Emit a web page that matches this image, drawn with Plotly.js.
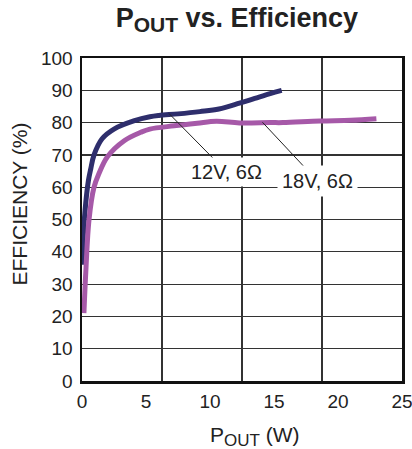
<!DOCTYPE html>
<html>
<head>
<meta charset="utf-8">
<script src="https://cdn.plot.ly/plotly-3.0.1.min.js"></script>
<style>html,body{margin:0;padding:0;background:#fff;}#chart{width:412px;height:449px;}</style>
</head>
<body>
<div id="chart"></div>
<script>
// Data
const pout12 = [0.02, 0.1, 0.29, 0.5, 0.68, 0.94, 1.57, 2.5, 4.1, 5.3, 6.0, 7.5, 9.2, 10.7, 12.3, 13.5, 14.7, 15.6];
const eff12  = [36, 45, 55, 62, 65.6, 70, 75, 78, 80.6, 81.8, 82.2, 82.7, 83.4, 84.2, 86, 87.5, 89, 90];
const pout18 = [0.15, 0.3, 0.55, 0.94, 1.3, 2.0, 3.3, 4.6, 5.3, 7.2, 9.0, 10.5, 12.3, 14.7, 15.7, 18.6, 21.0, 23.0];
const eff18  = [21, 34, 50, 60, 64, 69.5, 74.4, 77, 78, 79, 79.8, 80.4, 79.9, 80, 80, 80.5, 80.7, 81.2];
const xTicks = [0, 5, 10, 15, 20, 25];
const yTicks = [0, 10, 20, 30, 40, 50, 60, 70, 80, 90, 100];
const label12 = "12V, 6Ω";
const label18 = "18V, 6Ω";
const titleText = "<b>P<sub><span style='font-size:21px'>OUT</span></sub> vs. Efficiency</b>";
const xTitleText = "P<sub><span style='font-size:17px'>OUT</span></sub> (W)";
const yTitleText = "EFFICIENCY (%)";

const font = {family: "Liberation Sans, Arial, sans-serif", color: "#222"};

const traces = [
  {x: pout12, y: eff12, xaxis: "x", yaxis: "y", mode: "lines",
   line: {color: "#2e2e6c", width: 5, shape: "spline"}, hoverinfo: "skip"},
  {x: pout18, y: eff18, xaxis: "x2", yaxis: "y", mode: "lines",
   line: {color: "#a659a8", width: 5, shape: "spline"}, hoverinfo: "skip"}
];

const layout = {
  width: 412, height: 449,
  margin: {l: 82, r: 10, t: 58, b: 68},
  paper_bgcolor: "#fff", plot_bgcolor: "#fff",
  showlegend: false,
  font: Object.assign({size: 19}, font),
  title: {text: titleText, x: 0.575, xanchor: "center", y: 0.962, yanchor: "middle",
          font: Object.assign({}, font, {size: 27, color: "#222"})},
  xaxis: {range: [0, 25], dtick: 6.25, tick0: 0, showticklabels: false, ticks: "",
          showgrid: true, gridcolor: "#333", gridwidth: 1.2, zeroline: false,
          showline: true, linecolor: "#111", linewidth: 2.5, mirror: true, fixedrange: true},
  xaxis2: {overlaying: "x", anchor: "y", side: "bottom", range: [0, 25], tickvals: xTicks,
           ticktext: xTicks.map(String), showgrid: false, zeroline: false, showline: false,
           ticks: "outside", ticklen: 3, tickcolor: "rgba(0,0,0,0)", ticklabeloverflow: "allow",
           tickfont: Object.assign({}, font, {size: 19}), fixedrange: true},
  yaxis: {range: [0, 100], tickvals: yTicks, ticktext: yTicks.map(String), showgrid: true,
          gridcolor: "#333", gridwidth: 1.2, zeroline: false, showline: true, linecolor: "#111",
          linewidth: 2.5, mirror: true, ticks: "outside", ticklen: 3, tickcolor: "rgba(0,0,0,0)",
          tickfont: Object.assign({}, font, {size: 19}), fixedrange: true},
  annotations: [
    {x: 6.8, y: 82.8, xref: "x", yref: "y", ax: 11.3, ay: 64.7, axref: "x", ayref: "y",
     text: label12, showarrow: true, arrowhead: 0, arrowwidth: 1, arrowcolor: "#222",
     bgcolor: "#fff", borderpad: 3, font: Object.assign({}, font, {size: 20})},
    {x: 14.1, y: 80.1, xref: "x", yref: "y", ax: 18.4, ay: 61.9, axref: "x", ayref: "y",
     text: label18, showarrow: true, arrowhead: 0, arrowwidth: 1, arrowcolor: "#222",
     bgcolor: "#fff", borderpad: 4, font: Object.assign({}, font, {size: 20})},
    {x: 0.5406, y: -0.1703, xref: "paper", yref: "paper", xanchor: "center", yanchor: "middle",
     text: xTitleText, showarrow: false, font: Object.assign({}, font, {size: 21})},
    {x: -0.1953, y: 0.548, xref: "paper", yref: "paper", xanchor: "center", yanchor: "middle",
     text: yTitleText, textangle: -90, showarrow: false, font: Object.assign({}, font, {size: 21})}
  ]
};

Plotly.newPlot("chart", traces, layout, {staticPlot: true, displayModeBar: false});
</script>
</body>
</html>
